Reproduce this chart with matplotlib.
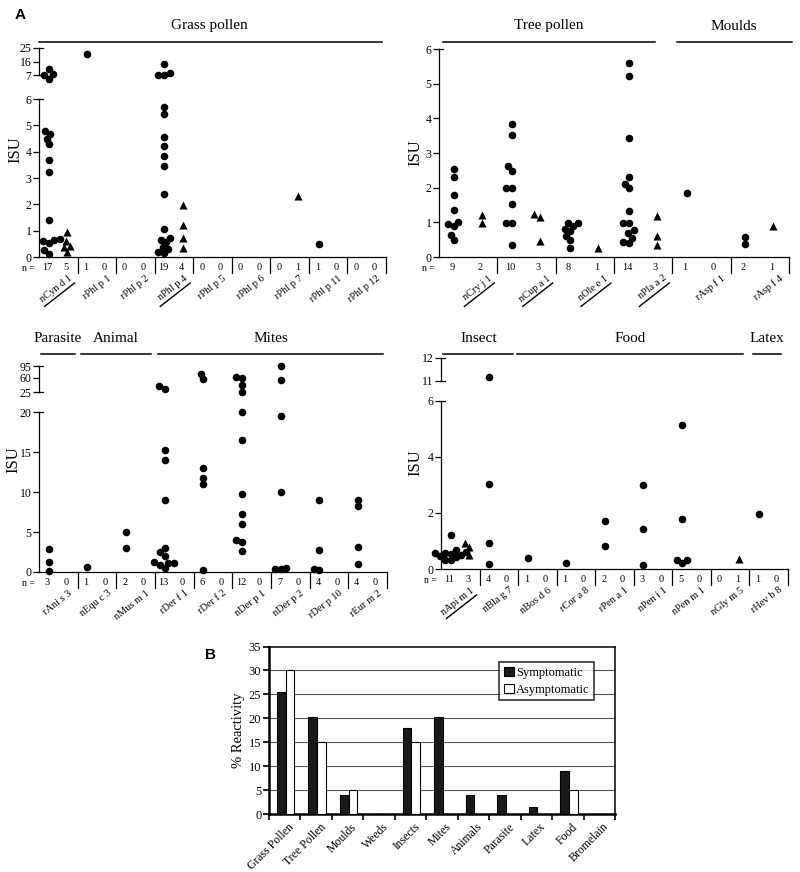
import numpy as np
import matplotlib
matplotlib.use('Agg')
import matplotlib.pyplot as plt
from matplotlib.patches import Patch
from matplotlib.ticker import NullLocator

plt.rcParams['font.family'] = ['Liberation Serif', 'DejaVu Serif']

# ---------------- DATA ----------------
# Panel A, top-left: grass pollen
tl_labels = ['nCyn d 1', 'rPhl p 1', 'rPhl p 2', 'nPhl p 4', 'rPhl p 5',
             'rPhl p 6', 'rPhl p 7', 'rPhl p 11', 'rPhl p 12']
tl_underline = [True, False, False, True, False, False, False, False, False]
tl_n_sym = [17, 1, 0, 19, 0, 0, 0, 1, 0]
tl_n_asym = [5, 0, 0, 4, 0, 0, 1, 0, 0]
tl_sym = [
    [11.3, 7.6, 7.0, 6.85, 4.78, 4.69, 4.5, 4.28, 3.69, 3.24, 1.40, 0.70, 0.66, 0.60, 0.54, 0.28, 0.12],
    [21.2], [],
    [14.5, 8.1, 7.0, 7.0, 5.68, 5.45, 4.56, 4.21, 3.82, 3.44, 2.41, 1.07, 0.73, 0.64, 0.56, 0.38, 0.32, 0.19, 0.15],
    [], [], [], [0.51], []]
tl_asym = [[0.96, 0.60, 0.41, 0.38, 0.19], [], [], [1.98, 1.20, 0.73, 0.34], [], [], [2.3], [], []]

# Panel A, top-right: tree pollen, moulds
tr_labels = ['nCry j 1', 'nCup a 1', 'nOle e 1', 'nPla a 2', 'rAsp f 1', 'rAsp f 4']
tr_underline = [True, True, True, True, False, False]
tr_n_sym = [9, 10, 8, 14, 1, 2]
tr_n_asym = [2, 3, 1, 3, 0, 1]
tr_sym = [
    [2.55, 2.3, 1.78, 1.35, 1.01, 0.94, 0.89, 0.63, 0.48],
    [3.83, 3.52, 2.63, 2.49, 1.98, 1.98, 1.52, 0.98, 0.98, 0.36],
    [0.99, 0.99, 0.90, 0.82, 0.75, 0.61, 0.48, 0.26],
    [5.61, 5.21, 3.44, 2.31, 2.12, 1.98, 1.32, 0.98, 0.98, 0.77, 0.70, 0.56, 0.43, 0.41],
    [1.85],
    [0.58, 0.37]]
tr_asym = [[1.21, 0.99], [1.23, 1.16, 0.46], [0.27], [1.19, 0.61, 0.34], [], [0.9]]

# Panel A, bottom-left: parasite, animal, mites
bl_labels = ['rAni s 3', 'nEqu c 3', 'nMus m 1', 'rDer f 1', 'rDer f 2',
             'nDer p 1', 'nDer p 2', 'rDer p 10', 'rEur m 2']
bl_underline = [False] * 9
bl_n_sym = [3, 1, 2, 13, 6, 12, 7, 4, 4]
bl_n_asym = [0, 0, 0, 0, 0, 0, 0, 0, 0]
bl_sym = [
    [2.88, 1.29, 0.17],
    [0.67],
    [4.96, 2.96],
    [39.7, 33.1, 15.33, 14.0, 9.0, 3.04, 2.5, 2.0, 1.21, 1.08, 1.08, 0.88, 0.46],
    [72.6, 57.6, 13.08, 11.83, 11.0, 0.25],
    [62.0, 61.0, 43.7, 25.8, 20.04, 16.5, 9.71, 7.25, 6.0, 4.0, 3.75, 2.67],
    [94.0, 55.9, 19.5, 10.0, 0.54, 0.33, 0.33],
    [9.08, 2.71, 0.42, 0.21],
    [9.0, 8.25, 3.13, 0.96]]
bl_asym = [[] for _ in range(9)]

# Panel A, bottom-right: insect, food, latex
br_labels = ['nApi m 1', 'nBla g 7', 'nBos d 6', 'rCor a 8', 'rPen a 1',
             'nPen i 1', 'nPen m 1', 'nGly m 5', 'rHev b 8']
br_underline = [True] + [False] * 8
br_n_sym = [11, 4, 1, 1, 2, 3, 5, 0, 1]
br_n_asym = [3, 0, 0, 0, 0, 0, 0, 1, 0]
br_sym = [
    [1.22, 0.67, 0.61, 0.57, 0.57, 0.55, 0.50, 0.45, 0.43, 0.33, 0.31],
    [11.15, 3.03, 0.93, 0.19],
    [0.39], [0.21], [1.71, 0.81], [3.0, 1.42, 0.16],
    [5.14, 1.78, 0.31, 0.31, 0.21], [], [1.98]]
br_asym = [[0.94, 0.79, 0.51], [], [], [], [], [], [], [0.36], []]

# Panel B
b_cats = ['Grass Pollen', 'Tree Pollen', 'Moulds', 'Weeds', 'Insects', 'Mites',
          'Animals', 'Parasite', 'Latex', 'Food', 'Bromelain']
b_sym = [25.4, 20.3, 4.0, 0, 17.9, 20.3, 4.0, 4.0, 1.4, 9.0, 0]
b_asym = [30.0, 15.0, 5.0, 0, 15.0, 0, 0, 0, 0, 5.0, 0]

# ---------------- LAYOUT ----------------
W, H = 800, 872
fig = plt.figure(figsize=(W / 100, H / 100), dpi=100)


def add_px_axes(left, right, bottom, top):
    return fig.add_axes([left / W, 1 - bottom / H, (right - left) / W, (bottom - top) / H])


ov = fig.add_axes([0, 0, 1, 1])
ov.set_xlim(0, W)
ov.set_ylim(H, 0)
ov.axis('off')
ov.set_zorder(10)


def piecewise(xp, fp):
    xp = np.asarray(xp, float)
    fp = np.asarray(fp, float)
    s0 = (fp[1] - fp[0]) / (xp[1] - xp[0])
    s1 = (fp[-1] - fp[-2]) / (xp[-1] - xp[-2])

    def f(v):
        v = np.asarray(v, float)
        out = np.interp(v, xp, fp)
        out = np.where(v < xp[0], fp[0] + (v - xp[0]) * s0, out)
        out = np.where(v > xp[-1], fp[-1] + (v - xp[-1]) * s1, out)
        return out
    return f


def swarm(ypx, d):
    n = len(ypx)
    xs = np.zeros(n)
    placed = []
    for idx in np.argsort(ypx):
        y = ypx[idx]
        cands = [0.0]
        for (px, py) in placed:
            dy = y - py
            if abs(dy) < d:
                dx = np.sqrt(d * d - dy * dy)
                cands += [px + dx, px - dx]
        cands.sort(key=lambda c: (abs(c), c))
        for c in cands:
            if all((c - px) ** 2 + (y - py) ** 2 >= d * d - 1e-6 for px, py in placed):
                xs[idx] = c
                break
        placed.append((xs[idx], y))
    return xs


LW = 0.9
ROT = 38
COSR, SINR = np.cos(np.radians(ROT)), np.sin(np.radians(ROT))


def scatter_panel(geom, labels, underline, n_sym, n_asym, sym, asym,
                  xp, fp, ymax, segments, yticks, headers, header_y, isu_xy):
    L, R, B, T = geom
    ax = add_px_axes(L, R, B, T)
    f, finv = piecewise(xp, fp), piecewise(fp, xp)
    ax.set_yscale('function', functions=(f, finv))
    n = len(labels)
    ax.set_xlim(0, n)
    ax.set_ylim(0, ymax)
    ax.patch.set_visible(False)
    for s in ['top', 'right', 'left']:
        ax.spines[s].set_visible(False)
    ax.spines['bottom'].set_linewidth(LW)
    ax.set_xticks([])
    ax.set_yticks(yticks)
    ax.set_yticklabels([str(t) for t in yticks])
    ax.yaxis.set_minor_locator(NullLocator())
    ax.tick_params(axis='y', direction='out', length=4, width=LW, labelsize=8.5, pad=1.5)
    ytr = ax.get_yaxis_transform()
    for lo, hi in segments:
        ax.plot([0, 0], [lo, hi], transform=ytr, color='k', lw=LW, clip_on=False)
        for v in (lo, hi):
            if v != 0:
                ax.plot([0, 4 / (R - L)], [v, v], transform=ytr, color='k', lw=LW, clip_on=False)
    w = (R - L) / n
    for i in range(n):
        for vals, frac, marker, s in ((sym[i], 0.25, 'o', 30), (asym[i], 0.73, '^', 34)):
            if len(vals) == 0:
                continue
            vals = np.asarray(vals, float)
            pts = ax.transData.transform(np.column_stack([np.full(len(vals), i + frac), vals]))
            offs = swarm(pts[:, 1], 6.0)
            xs = ax.transData.inverted().transform(np.column_stack([pts[:, 0] + offs, pts[:, 1]]))[:, 0]
            ax.scatter(xs, vals, s=s, marker=marker, color='k', linewidths=0,
                       clip_on=False, zorder=3)
    # separators, n counts, labels
    ov.text(L - 4, B + 11, 'n =', ha='right', va='center', fontsize=7)
    for i in range(n):
        g1 = L + (i + 1) * w
        ov.plot([g1, g1], [B, B + 16], color='k', lw=LW)
        ov.text(L + (i + 0.22) * w, B + 10, str(n_sym[i]), ha='center', va='center', fontsize=7.5)
        ov.text(L + (i + 0.70) * w, B + 10, str(n_asym[i]), ha='center', va='center', fontsize=7.5)
        ov.text(g1 - 5, B + 22, labels[i], rotation=ROT, ha='right', va='baseline',
                rotation_mode='anchor', fontsize=7.5)
        if underline[i]:
            x1, y1 = g1 - 3, B + 26
            ln = 38
            ov.plot([x1 - ln * COSR, x1], [y1 + ln * SINR, y1], color='k', lw=1.0)
    ly, ty = header_y
    for name, x0, x1, xc in headers:
        ov.plot([L + x0 * w, L + x1 * w], [ly, ly], color='k', lw=1.1)
        ov.text(L + xc * w, ty, name, ha='center', va='center', fontsize=11)
    ov.text(isu_xy[0], isu_xy[1], 'ISU', rotation=90, ha='center', va='center', fontsize=12)
    return ax


scatter_panel((39, 386, 257, 48), tl_labels, tl_underline, tl_n_sym, tl_n_asym, tl_sym, tl_asym,
              [0, 6, 7, 25], [0, 6, 6.91, 7.94], 25, [(0, 6), (7, 25)],
              [0, 1, 2, 3, 4, 5, 6, 7, 16, 25],
              [('Grass pollen', 0.0, 8.9, 4.43)], (42, 26), (15, 150))

scatter_panel((439, 789, 257, 49), tr_labels, tr_underline, tr_n_sym, tr_n_asym, tr_sym, tr_asym,
              [0, 6], [0, 6], 6, [(0, 6)], [0, 1, 2, 3, 4, 5, 6],
              [('Tree pollen', 0.07, 3.7, 1.89), ('Moulds', 4.08, 6.05, 5.06)],
              (42, 26), (415, 153))

scatter_panel((39, 387, 572, 366), bl_labels, bl_underline, bl_n_sym, bl_n_asym, bl_sym, bl_asym,
              [0, 20, 25, 60, 95], [0, 20, 22.5, 24.3, 25.8], 95, [(0, 20), (25, 95)],
              [0, 5, 10, 15, 20, 25, 60, 95],
              [('Parasite', 0.05, 0.93, 0.49), ('Animal', 1.09, 2.9, 1.99), ('Mites', 3.08, 8.9, 6.0)],
              (354, 338), (13, 460))

scatter_panel((441, 788, 569, 358), br_labels, br_underline, br_n_sym, br_n_asym, br_sym, br_asym,
              [0, 6, 11, 12], [0, 6, 6.72, 7.53], 12, [(0, 6), (11, 12)],
              [0, 2, 4, 6, 11, 12],
              [('Insect', 0.06, 1.87, 0.97), ('Food', 1.98, 7.83, 4.9), ('Latex', 8.09, 8.82, 8.46)],
              (354, 338), (415, 463))

# ---------------- PANEL B ----------------
axB = add_px_axes(269, 615, 814, 646.5)
xB = np.arange(len(b_cats))
axB.bar(xB + 0.39, b_sym, width=0.28, color='#1a1a1a', edgecolor='k', lw=0.8, zorder=3,
        label='Symptomatic')
axB.bar(xB + 0.67, b_asym, width=0.28, color='white', edgecolor='k', lw=0.8, zorder=3,
        label='Asymptomatic')
axB.set_xlim(0, len(b_cats))
axB.set_ylim(0, 35)
axB.set_yticks(np.arange(0, 36, 5))
axB.set_xticks(np.arange(0, len(b_cats) + 1))
axB.set_xticklabels([])
axB.tick_params(axis='y', direction='out', length=4, width=1.2, labelsize=9, pad=1.5)
axB.tick_params(axis='x', direction='out', length=4, width=1.2)
for yv in range(5, 31, 5):
    axB.axhline(yv, color='#555555', lw=0.8, zorder=1)
axB.spines['left'].set_linewidth(1.8)
axB.spines['bottom'].set_linewidth(1.8)
axB.spines['top'].set_linewidth(1.1)
axB.spines['right'].set_linewidth(1.1)
for i, name in enumerate(b_cats):
    axB.annotate(name, xy=(i + 0.5, 0), xycoords=('data', 'axes fraction'),
                 xytext=(2.5, -5), textcoords='offset points', rotation=45,
                 ha='right', va='top', rotation_mode='anchor', fontsize=8.5)
axB.set_ylabel('% Reactivity', fontsize=10.5, labelpad=3)
handles = [Patch(facecolor='#1a1a1a', edgecolor='k', lw=0.8, label='Symptomatic'),
           Patch(facecolor='white', edgecolor='k', lw=0.8, label='Asymptomatic')]
leg = axB.legend(handles=handles, loc='upper right', bbox_to_anchor=(0.94, 0.905),
                 fontsize=9, frameon=True, fancybox=False, edgecolor='k',
                 handlelength=0.8, handleheight=0.8, handletextpad=0.2,
                 borderpad=0.35, labelspacing=0.4, borderaxespad=0)
leg.get_frame().set_linewidth(1.2)
leg.set_zorder(5)

ov.text(20, 15, 'A', ha='center', va='center', fontsize=11, fontweight='bold',
        family='Liberation Sans')
ov.text(210, 655, 'B', ha='center', va='center', fontsize=11, fontweight='bold',
        family='Liberation Sans')

fig.savefig('out.png', dpi=100)
